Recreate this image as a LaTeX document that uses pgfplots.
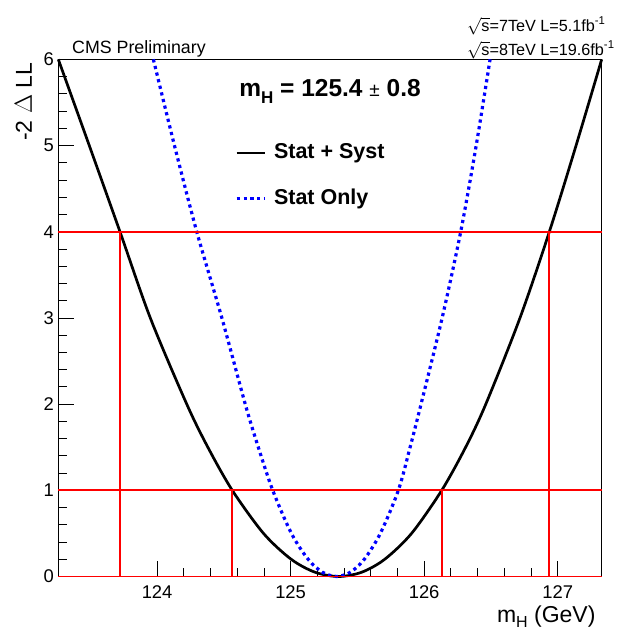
\documentclass[border=0pt]{standalone}
\usepackage{pgfplots}
\pgfplotsset{compat=1.18}
\usepackage{fontspec}
\setmainfont{Liberation Sans}
\begin{document}
\begin{tikzpicture}
  \path[use as bounding box] (-58.3bp,-55.5bp) rectangle (560.7bp,576.5bp);
  \begin{axis}[
      at={(0,0)}, anchor=south west,
      scale only axis,
      width=543.4bp, height=517.2bp,
      xmin=123.26, xmax=127.33,
      ymin=0, ymax=6,
      xtick={124,125,126,127},
      ytick={0,1,2,3,4,5,6},
      minor tick num=4,
      tick pos=left,
      tick align=inside,
      major tick length=16bp,
      minor tick length=8.3bp,
      tick style={line width=0.8bp, black},
      axis line style={line width=1bp, black},
      clip=false,
      /pgf/number format/assume math mode=true,
      ticklabel style={font=\fontsize{18.4bp}{20bp}\selectfont},
      xticklabel style={yshift=-6bp},
      yticklabel style={xshift=-1bp},
      every axis x label/.style={at={(rel axis cs:0.995,-0.088)}, anchor=base east,
        font=\fontsize{23bp}{25bp}\selectfont},
      every axis y label/.style={at={(rel axis cs:-0.0484,1)}, rotate=90, anchor=base east,
        font=\fontsize{23bp}{25bp}\selectfont},
      xlabel={m\raisebox{-0.25em}{\fontsize{16bp}{16bp}\selectfont H} (GeV)},
      ylabel={-2 $\Delta$ LL},
      legend style={draw=none, fill=none, at={(rel axis cs:0.325,0.8386)}, anchor=north west,
        inner sep=0pt, row sep=25.7bp,
        font=\bfseries\fontsize{21.5bp}{23bp}\selectfont,
        nodes={inner sep=0pt, text height=15.5bp, text depth=4.5bp, anchor=west},
        /tikz/every odd column/.style={column sep=7.7bp}},
      legend cell align=left,
      legend image code/.code={\draw[#1] (0bp,0bp) -- (28bp,0bp);},
    ]
    % Stat + Syst
    \addplot[black, line width=2.7bp, smooth] coordinates {
      (123.26,6) (123.492,5) (123.722,4) (123.949,3) (124.222,2) (124.38,1.5) (124.563,1)
      (124.797,0.5) (125.004,0.2) (125.182,0.05) (125.36,0) (125.533,0.05)
      (125.705,0.2) (125.906,0.5) (126.132,1) (126.311,1.5) (126.462,2) (126.718,3)
      (126.938,4) (127.138,5) (127.33,6)
    };
    \addlegendentry{Stat + Syst}
    % Stat only
    \addplot[blue, line width=3.2bp, dash pattern=on 3.2bp off 3.6bp, smooth] coordinates {
      (123.972,6) (124.13,5) (124.297,4) (124.485,3) (124.66,2) (124.758,1.5) (124.866,1)
      (125.006,0.5) (125.131,0.2) (125.238,0.05) (125.345,0) (125.448,0.05)
      (125.552,0.2) (125.672,0.5) (125.807,1) (125.895,1.5) (125.977,2) (126.135,3)
      (126.274,4) (126.39,5) (126.494,6)
    };
    \addlegendentry{Stat Only}
    % intervals
    \addplot[red, line width=1.8bp, forget plot] coordinates {(123.26,0) (127.33,0)};
    \addplot[red, line width=1.8bp, forget plot] coordinates {(123.26,1) (127.33,1)};
    \addplot[red, line width=1.8bp, forget plot] coordinates {(123.26,4) (127.33,4)};
    \addplot[red, line width=1.8bp, forget plot] coordinates {(124.563,0) (124.563,1)};
    \addplot[red, line width=1.8bp, forget plot] coordinates {(126.132,0) (126.132,1)};
    \addplot[red, line width=1.8bp, forget plot] coordinates {(123.722,0) (123.722,4)};
    \addplot[red, line width=1.8bp, forget plot] coordinates {(126.938,0) (126.938,4)};
    % texts
    \node[anchor=base west, font=\fontsize{17.8bp}{19bp}\selectfont, inner sep=0pt]
      at (rel axis cs:0.0252,1.0112) {CMS Preliminary};
    \node[anchor=base west, font=\fontsize{16.2bp}{17bp}\selectfont, inner sep=0pt]
      at (rel axis cs:0.752,1.0547) {$\sqrt{\mbox{s}}$=7TeV L=5.1fb\textsuperscript{-1}};
    \node[anchor=base west, font=\fontsize{16.2bp}{17bp}\selectfont, inner sep=0pt]
      at (rel axis cs:0.752,1.0083) {$\sqrt{\mbox{s}}$=8TeV L=19.6fb\textsuperscript{-1}};
    \node[anchor=base, font=\bfseries\fontsize{24.5bp}{26bp}\selectfont, inner sep=0pt]
      at (rel axis cs:0.5,0.929) {m\raisebox{-0.3em}{\fontsize{17bp}{17bp}\selectfont H} = 125.4 {\mdseries\fontsize{19bp}{19bp}\selectfont ±} 0.8};
  \end{axis}
\end{tikzpicture}
\end{document}
